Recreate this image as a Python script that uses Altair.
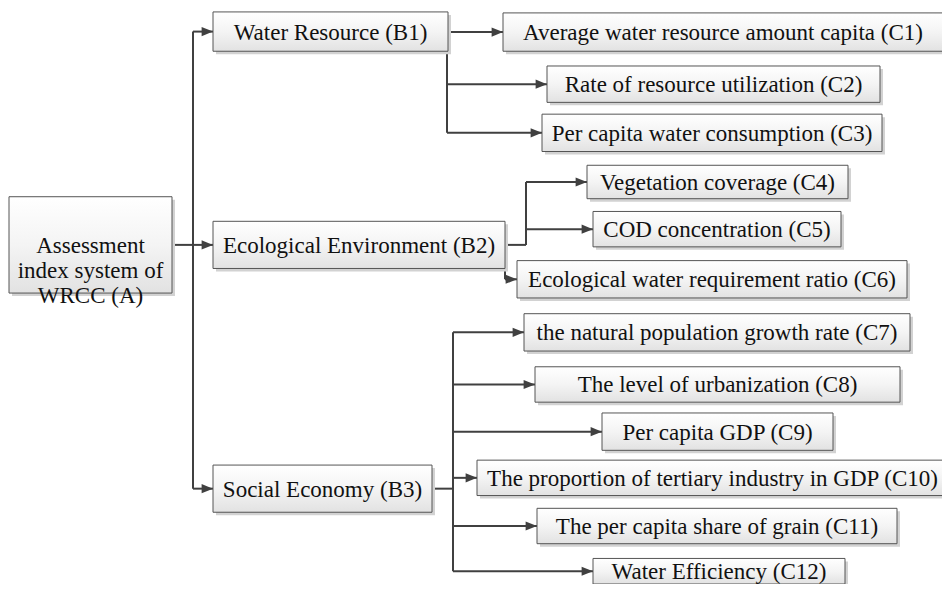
import altair as alt
import pandas as pd

# ---- diagram content ----
node_ids = ["A", "B1", "B2", "B3", "C1", "C2", "C3", "C4", "C5", "C6",
            "C7", "C8", "C9", "C10", "C11", "C12"]
node_labels = [
    "Assessment\nindex system of\nWRCC (A)",
    "Water Resource (B1)",
    "Ecological Environment (B2)",
    "Social Economy (B3)",
    "Average water resource amount capita (C1)",
    "Rate of resource utilization (C2)",
    "Per capita water consumption (C3)",
    "Vegetation coverage (C4)",
    "COD concentration (C5)",
    "Ecological water requirement ratio (C6)",
    "the natural population growth rate (C7)",
    "The level of urbanization (C8)",
    "Per capita GDP (C9)",
    "The proportion of tertiary industry in GDP (C10)",
    "The per capita share of grain (C11)",
    "Water Efficiency (C12)",
]
node_parent = [None, "A", "A", "A", "B1", "B1", "B1", "B2", "B2", "B2",
               "B3", "B3", "B3", "B3", "B3", "B3"]

# ---- layout (diagram coordinates, px) ----
box_left = [9, 213, 213, 213, 503, 547, 542, 587, 593, 517, 524, 535, 602, 477, 537, 593]
box_right = [172, 448, 505, 432, 943, 880, 882, 848, 841, 907, 910, 900, 833, 948, 897, 845]
box_top = [198, 10, 223, 471, 11, 65, 114, 166, 213, 263, 317, 371, 418, 466, 515, 566]
box_bottom = [296, 50, 271, 519, 50, 102, 152, 200, 249, 301, 355, 407, 456, 502, 551, 592]
branch_x = [None, 193, 193, 193, 447, 447, 447, 526, 526, 505, 453, 453, 453, 453, 453, 453]

nodes = pd.DataFrame({
    "id": node_ids, "label": node_labels, "parent": node_parent,
    "x0": box_left, "x1": box_right, "y0": box_top, "y1": box_bottom,
    "bx": branch_x,
})
nodes["cx"] = (nodes.x0 + nodes.x1) / 2
nodes["cy"] = (nodes.y0 + nodes.y1) / 2
idx = nodes.set_index("id")

segs = []
children = nodes[nodes.parent.notna()]
for (par, bx), grp in children.groupby(["parent", "bx"]):
    p = idx.loc[par]
    # stub from parent's right edge to branch line
    if bx > p.x1:
        segs.append({"x": p.x1, "x2": bx, "y": p.cy, "y2": p.cy})
    ys = list(grp.cy) + [p.cy]
    segs.append({"x": bx, "x2": bx, "y": min(ys), "y2": max(ys)})
    for _, c in grp.iterrows():
        segs.append({"x": bx, "x2": c.x0, "y": c.cy, "y2": c.cy})
segs = pd.DataFrame(segs)
heads = children[["x0", "cy"]].rename(columns={"x0": "x", "cy": "y"})

W, H = 934, 576
xs = alt.Scale(domain=[8, 8 + W], nice=False, zero=False)
ys = alt.Scale(domain=[6, 592], nice=False, zero=False, reverse=True)
LINE = "#404040"
FONT = "Liberation Serif"

lines = alt.Chart(segs).mark_rule(color=LINE, strokeWidth=2).encode(
    x=alt.X("x:Q", scale=xs, axis=None), x2="x2:Q",
    y=alt.Y("y:Q", scale=ys, axis=None), y2="y2:Q",
)

shadow = alt.Chart(nodes).mark_rect(fill="#d2d2d2", xOffset=3, yOffset=3, x2Offset=3, y2Offset=3).encode(
    x=alt.X("x0:Q", scale=xs, axis=None), x2="x1:Q",
    y=alt.Y("y0:Q", scale=ys, axis=None), y2="y1:Q",
)

grad = alt.Gradient(
    gradient="linear",
    stops=[alt.GradientStop(color="#ffffff", offset=0),
           alt.GradientStop(color="#f4f4f4", offset=0.5),
           alt.GradientStop(color="#e2e2e2", offset=1)],
    x1=0, x2=0, y1=0, y2=1,
)
boxes = alt.Chart(nodes).mark_rect(fill=grad, stroke="#555555", strokeWidth=1).encode(
    x=alt.X("x0:Q", scale=xs, axis=None), x2="x1:Q",
    y=alt.Y("y0:Q", scale=ys, axis=None), y2="y1:Q",
)

texts = alt.Chart(nodes).mark_text(
    font=FONT, fontSize=23, color="#111111", align="center", baseline="middle",
    lineBreak="\n", lineHeight=25, dy=1,
).encode(
    x=alt.X("cx:Q", scale=xs, axis=None),
    y=alt.Y("cy:Q", scale=ys, axis=None),
    text="label:N",
)

arrows = alt.Chart(heads).mark_point(
    shape="M0,0 L-2,-0.8 L-2,0.8 Z", filled=True, opacity=1, color=LINE,
    size=130, strokeWidth=0,
).encode(
    x=alt.X("x:Q", scale=xs, axis=None),
    y=alt.Y("y:Q", scale=ys, axis=None),
)

chart = alt.layer(lines, shadow, boxes, texts, arrows).properties(
    width=W, height=H, padding=0, autosize=alt.AutoSizeParams(type="none"),
    background="white",
).configure_view(stroke=None)

chart.save("out.html", embed_options={"renderer": "svg", "actions": False})
